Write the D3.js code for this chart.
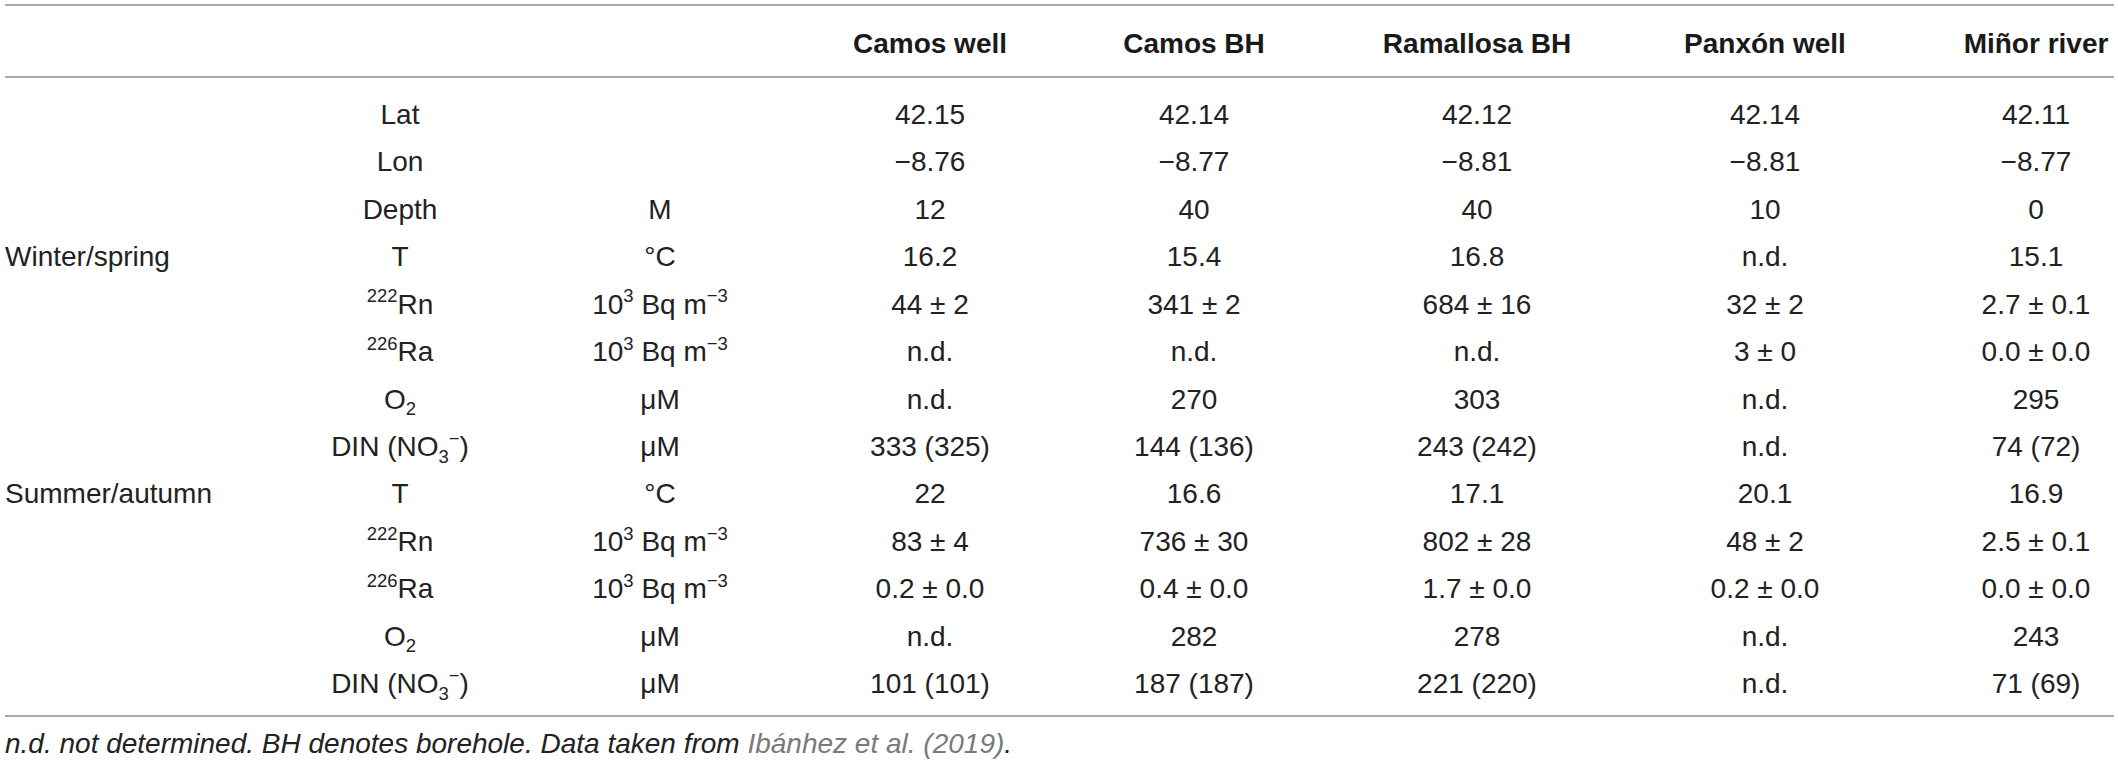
<!DOCTYPE html>
<html>
<head>
<meta charset="utf-8">
<script src="https://cdn.jsdelivr.net/npm/d3@7/dist/d3.min.js"></script>
<style>
  html, body { margin: 0; padding: 0; background: #fff; }
  svg { display: block; }
</style>
</head>
<body>
<svg id="chart" width="2118" height="764"></svg>
<script>
// ---------- data ----------
const columns = ["Camos well", "Camos BH", "Ramallosa BH", "Panxón well", "Miñor river"];
const seasonLabels = ["Winter/spring", "Summer/autumn"];
const seasonStartRow = [3, 8];
const parameters = ["Lat", "Lon", "Depth", "T", "^{222}Rn", "^{226}Ra", "O_{2}", "DIN (NO_{3}^{−})",
                    "T", "^{222}Rn", "^{226}Ra", "O_{2}", "DIN (NO_{3}^{−})"];
const units = ["", "", "M", "°C", "10^{3} Bq m^{−3}", "10^{3} Bq m^{−3}", "μM", "μM",
               "°C", "10^{3} Bq m^{−3}", "10^{3} Bq m^{−3}", "μM", "μM"];
const camosWell   = ["42.15", "−8.76", "12", "16.2", "44 ± 2", "n.d.", "n.d.", "333 (325)", "22", "83 ± 4", "0.2 ± 0.0", "n.d.", "101 (101)"];
const camosBH     = ["42.14", "−8.77", "40", "15.4", "341 ± 2", "n.d.", "270", "144 (136)", "16.6", "736 ± 30", "0.4 ± 0.0", "282", "187 (187)"];
const ramallosaBH = ["42.12", "−8.81", "40", "16.8", "684 ± 16", "n.d.", "303", "243 (242)", "17.1", "802 ± 28", "1.7 ± 0.0", "278", "221 (220)"];
const panxonWell  = ["42.14", "−8.81", "10", "n.d.", "32 ± 2", "3 ± 0", "n.d.", "n.d.", "20.1", "48 ± 2", "0.2 ± 0.0", "n.d.", "n.d."];
const minorRiver  = ["42.11", "−8.77", "0", "15.1", "2.7 ± 0.1", "0.0 ± 0.0", "295", "74 (72)", "16.9", "2.5 ± 0.1", "0.0 ± 0.0", "243", "71 (69)"];
const columnValues = [camosWell, camosBH, ramallosaBH, panxonWell, minorRiver];
const footnoteText = "n.d. not determined. BH denotes borehole. Data taken from ";
const footnoteRef = "Ibánhez et al. (2019)";

// ---------- layout ----------
const W = 2118, H = 764;
const FS = 28;
const FONT = "'Liberation Sans', Arial, Helvetica, sans-serif";
const svg = d3.select("#chart").attr("font-family", FONT);

const x = d3.scaleOrdinal().domain(columns).range([930, 1194, 1477, 1765, 2036]);
const y = d3.scalePoint().domain(d3.range(parameters.length)).range([114, 683]);
const xParam = 400, xUnit = 660, xSeason = 5;
const lineX0 = 5, lineX1 = 2114;
const baseOff = 10; // baseline offset from visual centre

// rich text helper: ^{..} superscript, _{..} subscript
function appendRich(textSel, str, fs) {
  const re = /\^\{([^}]*)\}|_\{([^}]*)\}|([^^_]+)/g;
  let m, cur = 0;
  const small = fs * 0.66;
  while ((m = re.exec(str)) !== null) {
    let txt, target, size;
    if (m[1] !== undefined) { txt = m[1]; target = -0.4 * fs; size = small; }
    else if (m[2] !== undefined) { txt = m[2]; target = 0.24 * fs; size = small; }
    else { txt = m[3]; target = 0; size = fs; }
    textSel.append("tspan")
      .attr("dy", target - cur)
      .attr("font-size", size)
      .text(txt);
    cur = target;
  }
}

// rules
const rules = [5, 77, 716];
svg.selectAll("line.rule").data(rules).join("line")
  .attr("class", "rule")
  .attr("x1", lineX0).attr("x2", lineX1)
  .attr("y1", d => d).attr("y2", d => d)
  .attr("stroke", "#a9a9a9").attr("stroke-width", 2.2);

// header
svg.selectAll("text.head").data(columns).join("text")
  .attr("class", "head")
  .attr("x", d => x(d)).attr("y", 43 + baseOff)
  .attr("text-anchor", "middle")
  .attr("font-size", FS).attr("font-weight", "bold")
  .attr("fill", "#1a1a1a")
  .text(d => d);

// season labels
svg.selectAll("text.season").data(seasonLabels).join("text")
  .attr("class", "season")
  .attr("x", xSeason).attr("y", (d, i) => y(seasonStartRow[i]) + baseOff)
  .attr("font-size", FS).attr("fill", "#222")
  .text(d => d);

// parameter labels
svg.selectAll("text.param").data(parameters).join("text")
  .attr("class", "param")
  .attr("x", xParam).attr("y", (d, i) => y(i) + baseOff)
  .attr("text-anchor", "middle")
  .attr("font-size", FS).attr("fill", "#222")
  .each(function (d) { appendRich(d3.select(this), d, FS); });

// units
svg.selectAll("text.unit").data(units).join("text")
  .attr("class", "unit")
  .attr("x", xUnit).attr("y", (d, i) => y(i) + baseOff)
  .attr("text-anchor", "middle")
  .attr("font-size", FS).attr("fill", "#222")
  .each(function (d) { appendRich(d3.select(this), d, FS); });

// values
columns.forEach((col, ci) => {
  svg.selectAll("text.val" + ci).data(columnValues[ci]).join("text")
    .attr("class", "val" + ci)
    .attr("x", x(col)).attr("y", (d, i) => y(i) + baseOff)
    .attr("text-anchor", "middle")
    .attr("font-size", FS).attr("fill", "#222")
    .text(d => d);
});

// footnote
const foot = svg.append("text")
  .attr("x", 5).attr("y", 743 + baseOff)
  .attr("font-size", FS).attr("font-style", "italic").attr("fill", "#222");
foot.append("tspan").text(footnoteText);
foot.append("tspan").attr("fill", "#7a7a7a").text(footnoteRef);
foot.append("tspan").text(".");
</script>
</body>
</html>
